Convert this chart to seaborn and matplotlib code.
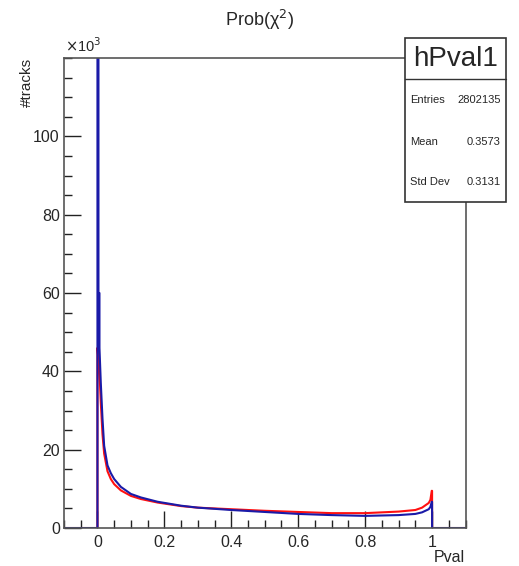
import numpy as np
import pandas as pd
import seaborn as sns
import matplotlib.pyplot as plt
from matplotlib.ticker import MultipleLocator

# values (counts in units of 10^3)
pval_blue = [-0.1, 0.0, 0.0, 0.003, 0.003, 0.006, 0.006, 0.01, 0.015, 0.02, 0.03, 0.04,
             0.05, 0.07, 0.1, 0.13, 0.18, 0.25, 0.3, 0.4, 0.5, 0.6, 0.7, 0.8, 0.9,
             0.95, 0.97, 0.99, 0.995, 0.999, 1.0, 1.0, 1.1]
tracks_blue = [0, 0, 125, 125, 60, 60, 46, 37, 28, 21, 16, 14,
               12.5, 10.5, 8.7, 7.8, 6.7, 5.7, 5.2, 4.6, 4.1, 3.6, 3.3, 3.1, 3.3,
               3.6, 4.0, 4.8, 5.4, 6.7, 6.7, 0, 0]

pval_red = [-0.1, 0.0, 0.0, 0.006, 0.01, 0.015, 0.02, 0.03, 0.04, 0.05, 0.07, 0.1,
            0.13, 0.18, 0.25, 0.3, 0.4, 0.5, 0.6, 0.7, 0.8, 0.9, 0.95, 0.97, 0.99,
            0.995, 0.999, 1.0, 1.0, 1.1]
tracks_red = [0, 0, 46, 40, 32, 24, 19, 14.5, 12.5, 11.2, 9.6, 8.2,
              7.4, 6.5, 5.6, 5.2, 4.8, 4.4, 4.1, 3.8, 3.8, 4.2, 4.6, 5.2, 6.4,
              7.2, 9.5, 9.5, 0, 0]

stat_names = ['Entries', 'Mean', 'Std Dev']
stat_values = ['2802135', '0.3573', '0.3131']

df_blue = pd.DataFrame({'Pval': pval_blue, 'tracks': tracks_blue})
df_red = pd.DataFrame({'Pval': pval_red, 'tracks': tracks_red})

sns.set_style('ticks')
plt.rcParams['font.family'] = ['Liberation Sans', 'DejaVu Sans']

fig = plt.figure(figsize=(5.19, 5.66), dpi=100)
ax = fig.add_axes([0.1233, 0.0671, 0.7737, 0.8304])

sns.lineplot(data=df_red, x='Pval', y='tracks', sort=False, estimator=None,
             color='#ff1010', lw=1.5, ax=ax)
sns.lineplot(data=df_blue, x='Pval', y='tracks', sort=False, estimator=None,
             color='#1a1aa8', lw=1.5, ax=ax)

ax.set_xlim(-0.1, 1.1)
ax.set_ylim(0, 120)
ax.set_xticks([0, 0.2, 0.4, 0.6, 0.8, 1.0])
ax.set_xticklabels(['0', '0.2', '0.4', '0.6', '0.8', '1'])
ax.set_yticks([0, 20, 40, 60, 80, 100])
ax.xaxis.set_minor_locator(MultipleLocator(0.05))
ax.yaxis.set_minor_locator(MultipleLocator(5))
ax.tick_params(which='major', direction='in', length=12, width=1, color='#222222',
               labelsize=11.5)
ax.tick_params(axis='y', which='major', pad=3)
ax.tick_params(axis='x', which='major', pad=5)
ax.tick_params(which='minor', direction='in', length=6, width=1, color='#222222')
for s in ax.spines.values():
    s.set_color('#555555')
    s.set_linewidth(1.2)

ax.set_xlabel('')
ax.set_ylabel('')
fig.text(0.896, 1 - 558 / 566, 'Pval', fontsize=11.5, ha='right', va='center')
fig.text(0.052, 0.897, '#tracks', fontsize=11, rotation=90, ha='center', va='top')
fig.text(0.125, 0.902, r'$\times$10$^3$', fontsize=10.5, ha='left', va='bottom')
fig.text(0.5, 1 - 20 / 566, 'Prob(χ$^2$)', fontsize=13, ha='center', va='center')

# stats box
bx0, bx1 = 405 / 519, 506 / 519
by_top, by_sep, by_bot = 1 - 38 / 566, 1 - 79 / 566, 1 - 202 / 566
box = plt.Rectangle((bx0, by_bot), bx1 - bx0, by_top - by_bot, transform=fig.transFigure,
                    facecolor='white', edgecolor='#333333', lw=1.2, zorder=5)
fig.patches.append(box)
fig.lines.append(plt.Line2D([bx0, bx1], [by_sep, by_sep], transform=fig.transFigure,
                            color='#333333', lw=1.0, zorder=6))
fig.text((bx0 + bx1) / 2, (by_top + by_sep) / 2, 'hPval1', fontsize=20,
         ha='center', va='center', zorder=7)
for name, val, yp in zip(stat_names, stat_values, [100, 142, 182]):
    fig.text(bx0 + 0.01, 1 - yp / 566, name, fontsize=8, ha='left', va='center', zorder=7)
    fig.text(bx1 - 0.01, 1 - yp / 566, val, fontsize=8, ha='right', va='center', zorder=7)

fig.savefig('out.png', dpi=100, facecolor='white')
